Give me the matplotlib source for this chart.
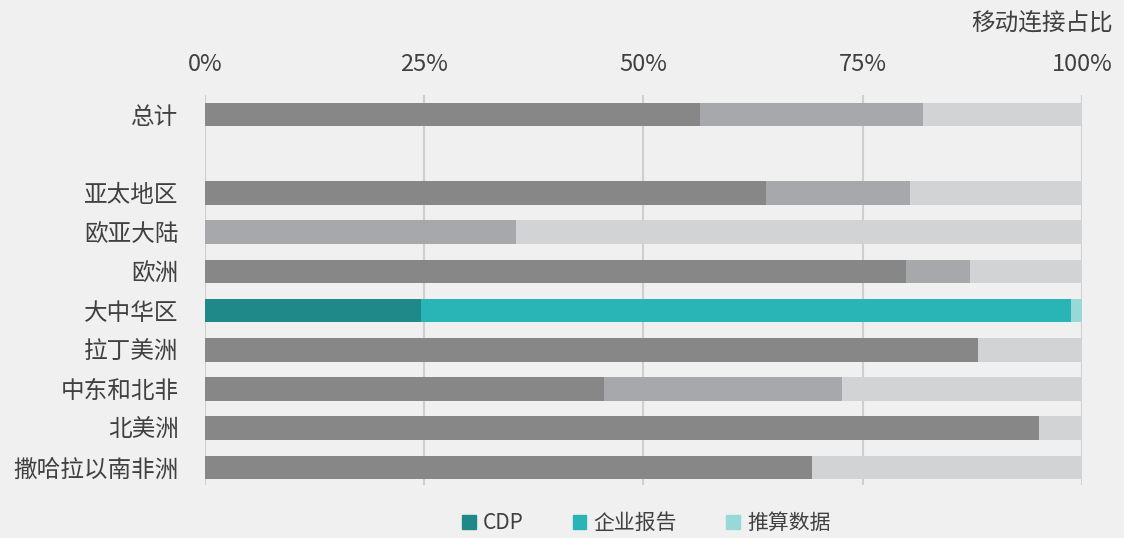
import matplotlib.pyplot as plt
from matplotlib.patches import Patch
import numpy as np

plt.rcParams['font.family'] = ['Noto Sans CJK SC', 'DejaVu Sans']

regions = ['总计', '亚太地区', '欧亚大陆', '欧洲', '大中华区',
           '拉丁美洲', '中东和北非', '北美洲', '撒哈拉以南非洲']
cdp = [56.4, 64.0, 0.0, 79.9, 24.6, 88.1, 45.5, 95.1, 69.2]
company = [25.5, 16.4, 35.5, 7.3, 74.1, 0.0, 27.1, 0.0, 0.0]
estimated = [100 - a - b for a, b in zip(cdp, company)]
ticks = [0, 25, 50, 75, 100]

gray_cols = ['#878787', '#a7a8ab', '#d2d3d4']
teal_cols = ['#1f8989', '#29b5b5', '#98d8d8']
bg = '#f0f0f0'
txt = '#404040'

fig = plt.figure(figsize=(11.24, 5.38), dpi=100, facecolor=bg)
ax = fig.add_axes([0.1824, 0.0985, 0.7802, 0.7249], facecolor=bg)

ypos = np.array([0, 2, 3, 4, 5, 6, 7, 8, 9])
for i, y in enumerate(ypos):
    cols = teal_cols if regions[i] == '大中华区' else gray_cols
    left = 0
    for val, c in zip([cdp[i], company[i], estimated[i]], cols):
        ax.barh(y, val, left=left, height=0.6, color=c, zorder=2)
        left += val

ax.set_xlim(0, 100)
ax.set_ylim(9.45, -0.5)
ax.set_xticks(ticks)
ax.set_xticklabels([f'{t}%' for t in ticks], fontsize=17, color=txt)
ax.xaxis.tick_top()
ax.tick_params(axis='x', length=0, pad=14)
ax.set_yticks(ypos)
ax.set_yticklabels(regions, fontsize=17, color=txt)
ax.tick_params(axis='y', length=0, pad=19)
for s in ax.spines.values():
    s.set_visible(False)
ax.grid(axis='x', color='#cfcfcf', linewidth=1.5, zorder=0)

fig.text(0.99, 0.957, '移动连接占比', ha='right', va='center', fontsize=17, color=txt)

handles = [Patch(color=c) for c in teal_cols]
fig.legend(handles, ['CDP', '企业报告', '推算数据'], loc='center',
           bbox_to_anchor=(0.575, 0.028), ncol=3, frameon=False, fontsize=15,
           handlelength=0.65, handleheight=0.65, handletextpad=0.35,
           columnspacing=2.35, labelcolor=txt)

plt.savefig('out.png', dpi=100, facecolor=bg)
